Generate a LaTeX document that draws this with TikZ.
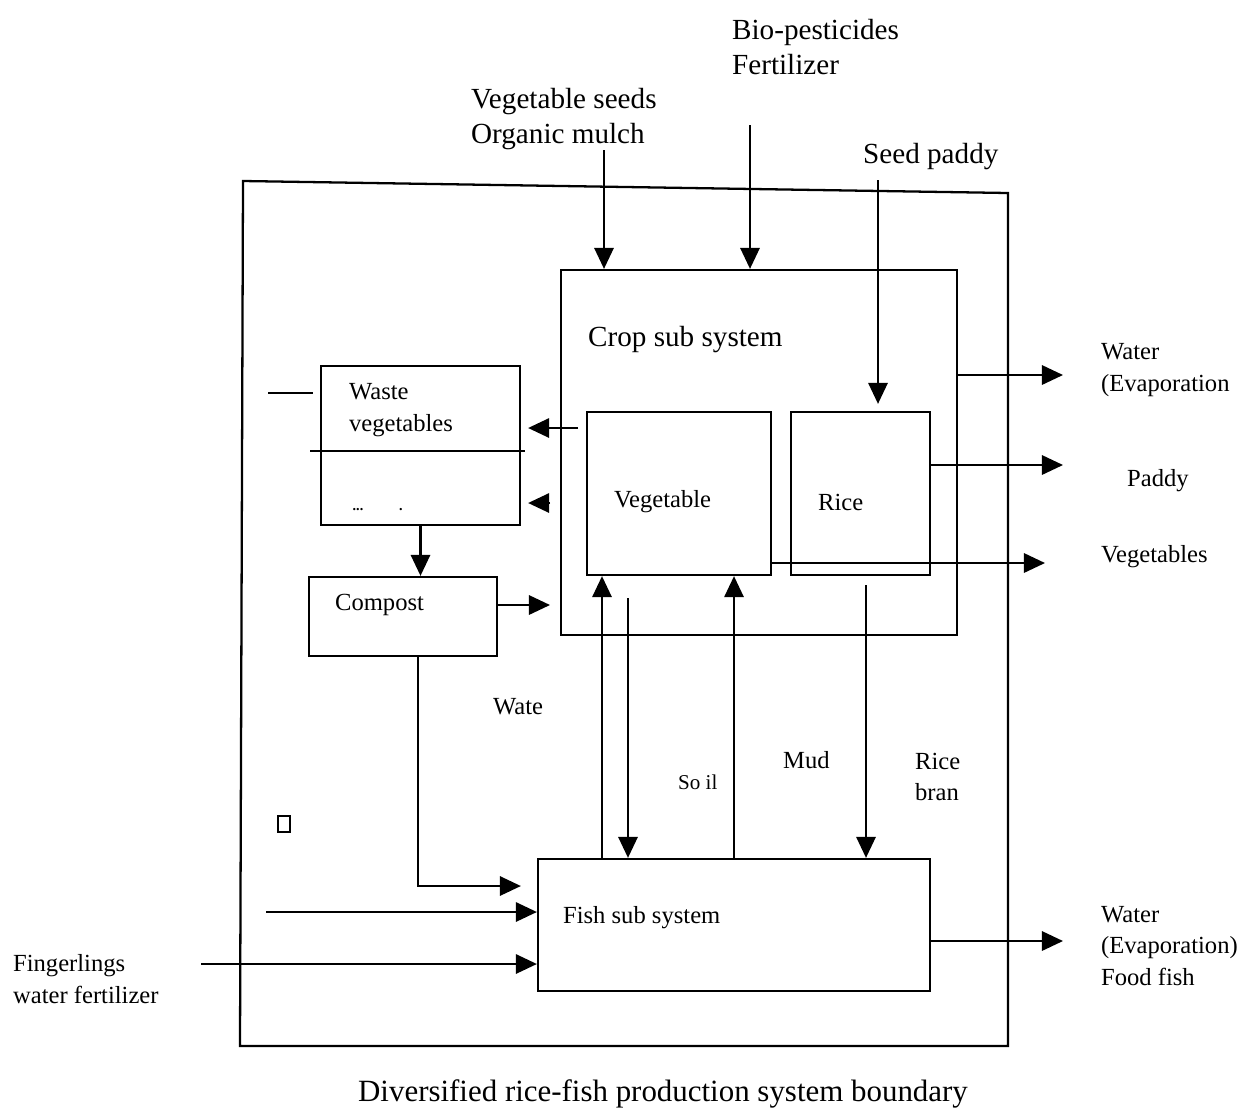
\documentclass[tikz,border=0pt]{standalone}
\usepackage{fontspec}
\setmainfont{Liberation Serif}
\usetikzlibrary{arrows.meta}
\tikzset{
  box/.style={draw, line width=1.3pt, inner sep=0pt},
  arr/.style={line width=1.3pt, -{Triangle[length=12pt,width=11pt]}},
  lbl/.style={font=\fontsize{16.6}{20}\selectfont, inner sep=0pt, anchor=west, align=left},
  slbl/.style={font=\fontsize{14}{18}\selectfont, inner sep=0pt, anchor=west, align=left}
}

\begin{document}
\begin{tikzpicture}[x=0.02cm, y=-0.02cm, line width=1.3pt]
    \useasboundingbox (0,0) rectangle (1247,1113);
    % system boundary
    \draw (243,181) -- (1008,193) -- (1008,1046) -- (240,1046) -- cycle;
    \node[font=\fontsize{17.6}{20}\selectfont] (caption) at (663,1094) {Diversified rice-fish production system boundary};
    % boxes
    \node[box, minimum width=7.92cm, minimum height=7.3cm] (crop) at (759,452.5) {};
    \node[box, minimum width=3.98cm, minimum height=3.18cm] (waste) at (420.5,445.5) {};
    \node[box, minimum width=3.68cm, minimum height=3.26cm] (veg) at (679,493.5) {};
    \node[box, minimum width=2.78cm, minimum height=3.26cm] (rice) at (860.5,493.5) {};
    \node[box, minimum width=3.76cm, minimum height=1.58cm] (compost) at (403,616.5) {};
    \node[box, minimum width=7.84cm, minimum height=2.64cm] (fish) at (734,925) {};
    \draw (310,451) -- (525,451);
    \draw (268,393) -- (313,393);
    \node[draw, line width=0.9pt, minimum width=0.24cm, minimum height=0.32cm, inner sep=0pt] (glyph) at (284,824) {};
    % texts
    \node[lbl] (bio) at (731,47) {Bio-pesticides\\Fertilizer};
    \node[lbl] (vseeds) at (470,119) {Vegetable seeds\\Organic mulch};
    \node[lbl] (seedp) at (862,157) {Seed paddy};
    \node[lbl] (croptxt) at (587,340) {Crop sub system};
    \node[slbl] (wastetxt) at (348,410) {Waste\\vegetables};
    \node[font=\fontsize{8}{8}\selectfont, inner sep=0pt] (dots1) at (358,510) {\textbf{...}};
    \node[font=\fontsize{8}{8}\selectfont, inner sep=0pt] (dots2) at (401,510) {\textbf{.}};
    \node[slbl] (vegtxt) at (613,502) {Vegetable};
    \node[slbl] (ricetxt) at (817,502) {Rice};
    \node[slbl] (comptxt) at (334,605) {Compost};
    \node[slbl] (fishtxt) at (562,918) {Fish sub system};
    \node[slbl] (wout1) at (1100,370) {Water\\(Evaporation};
    \node[slbl] (pdytxt) at (1126,481) {Paddy};
    \node[slbl] (vegout) at (1100,557) {Vegetables};
    \node[slbl] (wout2) at (1100,946) {Water\\(Evaporation)\\Food fish};
    \node[slbl] (fing) at (12,979) {Fingerlings\\water fertilizer};
    \node[slbl] (wate) at (492,707) {Wate};
    \node[font=\fontsize{12}{14}\selectfont, inner sep=0pt, anchor=west] (soil) at (677,782) {So il};
    \node[slbl] (mud) at (782,760) {Mud};
    \node[slbl] (bran) at (914,777) {Rice\\bran};
    % inputs from above
    \coordinate (vs) at (604,150);
    \coordinate (bp) at (750,125);
    \coordinate (sp) at (878,180);
    \draw[arr] (vs) -- (vs |- crop.north);
    \draw[arr] (bp) -- (bp |- crop.north);
    \draw[arr, shorten >=0.14cm] (sp) -- (sp |- rice.north);
    % outputs to the right
    \coordinate (wtr) at (1063,375);
    \coordinate (pdy) at (1063,465);
    \coordinate (vgo) at (1045,563);
    \coordinate (fw) at (1063,941);
    \draw[arr] (wtr -| crop.east) -- (wtr);
    \draw[arr] (pdy -| rice.east) -- (pdy);
    \draw[arr] (vgo -| veg.east) -- (vgo);
    \draw[arr] (fw -| fish.east) -- (fw);
    % waste and compost
    \coordinate (wv1) at (578,428);
    \coordinate (wv2) at (550,503);
    \draw[arr, shorten >=0.14cm] (wv1) -- (wv1 -| waste.east);
    \draw[arr, shorten >=0.14cm] (wv2) -- (wv2 -| waste.east);
    \draw[arr] (waste.south) -- (waste.south |- compost.north);
    \coordinate (cpo) at (550,605);
    \draw[arr] (cpo -| compost.east) -- (cpo);
    \coordinate (cf) at (418,886);
    \draw[arr, shorten >=0.32cm] (cf |- compost.south) -- (cf) -- (cf -| fish.west);
    % inputs to fish
    \coordinate (li) at (266,912);
    \coordinate (fi) at (201,964);
    \draw[arr] (li) -- (li -| fish.west);
    \draw[arr] (fi) -- (fi -| fish.west);
    % exchanges between fish and crops
    \foreach \u in {602,734} \draw[arr] (\u,0 |- fish.north) -- (\u,0 |- veg.south);
    \coordinate (d1) at (628,598);
    \coordinate (d2) at (866,585);
    \draw[arr] (d1) -- (d1 |- fish.north);
    \draw[arr] (d2) -- (d2 |- fish.north);
\end{tikzpicture}
\end{document}
